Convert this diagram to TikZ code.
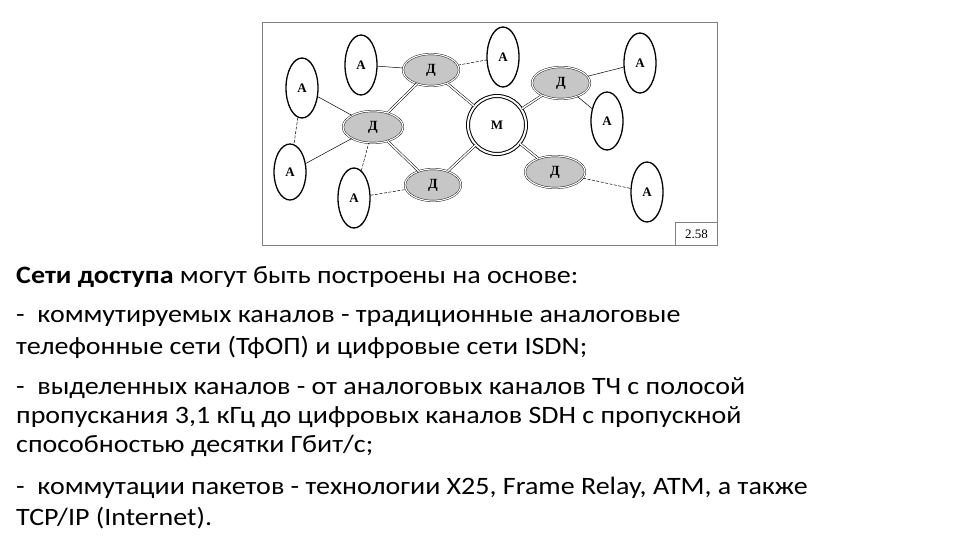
\documentclass[tikz,border=0pt]{standalone}
\usepackage{fontspec}
\setmainfont{Carlito}
\newfontfamily\bodyfont[FakeStretch=1.12]{Carlito}
\newfontfamily\figfont{Liberation Serif}
\usetikzlibrary{shapes.geometric}
\begin{document}
\begin{tikzpicture}[x=1pt,y=-1pt,
  anode/.style={ellipse,draw,line width=1.3pt,minimum width=32pt,minimum height=60pt,inner sep=0pt,font=\figfont\bfseries\fontsize{13}{13}\selectfont},
  dnode/.style={ellipse,draw,double,double distance=1.2pt,fill=gray!45,minimum width=56pt,minimum height=32pt,inner sep=0pt,font=\figfont\bfseries\fontsize{14}{14}\selectfont},
  mnode/.style={circle,draw,line width=1pt,double,double distance=2pt,minimum size=58pt,inner sep=0pt,font=\figfont\bfseries\fontsize{13}{13}\selectfont},
  dbl/.style={draw,double,double distance=1.5pt,line width=0.5pt},
  thin/.style={draw,line width=0.5pt},
  dsh/.style={draw,line width=0.5pt,dash pattern=on 3pt off 1.5pt},
  txt/.style={anchor=west,inner sep=0pt,font=\bodyfont\fontsize{25}{25}\selectfont}]
\useasboundingbox (0,0) rectangle (960,540);
\fill[white] (0,0) rectangle (960,540);
\node[draw=gray,line width=0.8pt,minimum width=455pt,minimum height=223pt,anchor=north west,inner sep=0pt] (frame) at (262,22) {};
\node[draw=gray,line width=0.6pt,minimum width=42pt,minimum height=23pt,anchor=south east,inner sep=0pt,font=\figfont\fontsize{13}{13}\selectfont] (lbl) at (frame.south east) {2.58};
\node[anode] (a1) at (361,65) {А};
\node[anode] (a2) at (503,57) {А};
\node[anode] (a3) at (302,88) {А};
\node[anode,minimum height=56pt] (a4) at (290,172) {А};
\node[anode] (a5) at (354,198) {А};
\node[anode] (a6) at (640,63) {А};
\node[anode,minimum height=58pt] (a7) at (607,121) {А};
\node[anode] (a8) at (647,192) {А};
\node[dnode] (d1) at (431,70) {Д};
\node[dnode,minimum width=60pt] (d2) at (373,127) {Д};
\node[dnode] (d3) at (433,185) {Д};
\node[dnode,minimum width=58pt] (d4) at (561,83) {Д};
\node[dnode,minimum width=60pt] (d5) at (555,172) {Д};
\node[mnode] (m) at (497,125) {М};
\draw[dbl] (d2) -- (d1);
\draw[dbl] (d2) -- (d3);
\draw[dbl] (d1) -- (m);
\draw[dbl] (d3) -- (m);
\draw[dbl] (m) -- (d4);
\draw[dbl] (m) -- (d5);
\draw[thin] (a1) -- (d1);
\draw[dsh] (d1) -- (a2);
\draw[thin] (a3) -- (d2);
\draw[thin] (a4) -- (d2);
\draw[dsh] (a5) -- (d2);
\draw[dsh] (a5) -- (d3);
\draw[dsh] (a3) -- (a4);
\draw[thin] (d4) -- (a6);
\draw[thin] (d4) -- (a7);
\draw[dsh] (d5) -- (a8);
\node[txt] (t1) at (16,277) {\textbf{Сети доступа} могут быть построены на основе:};
\node[txt] (t2) at (16,318) {-\ \ коммутируемых каналов - традиционные аналоговые};
\node[txt] (t3) at (16,347) {телефонные сети (ТфОП) и цифровые сети ISDN;};
\node[txt] (t4) at (16,388) {-\ \ выделенных каналов - от аналоговых каналов ТЧ с полосой};
\node[txt] (t5) at (16,417) {пропускания 3,1 кГц до цифровых каналов SDH с пропускной};
\node[txt] (t6) at (16,446) {способностью десятки Гбит/с;};
\node[txt] (t7) at (16,488) {-\ \ коммутации пакетов - технологии X25, Frame Relay, ATM, а также};
\node[txt] (t8) at (16,518) {TCP/IP (Internet).};
\end{tikzpicture}
\end{document}
